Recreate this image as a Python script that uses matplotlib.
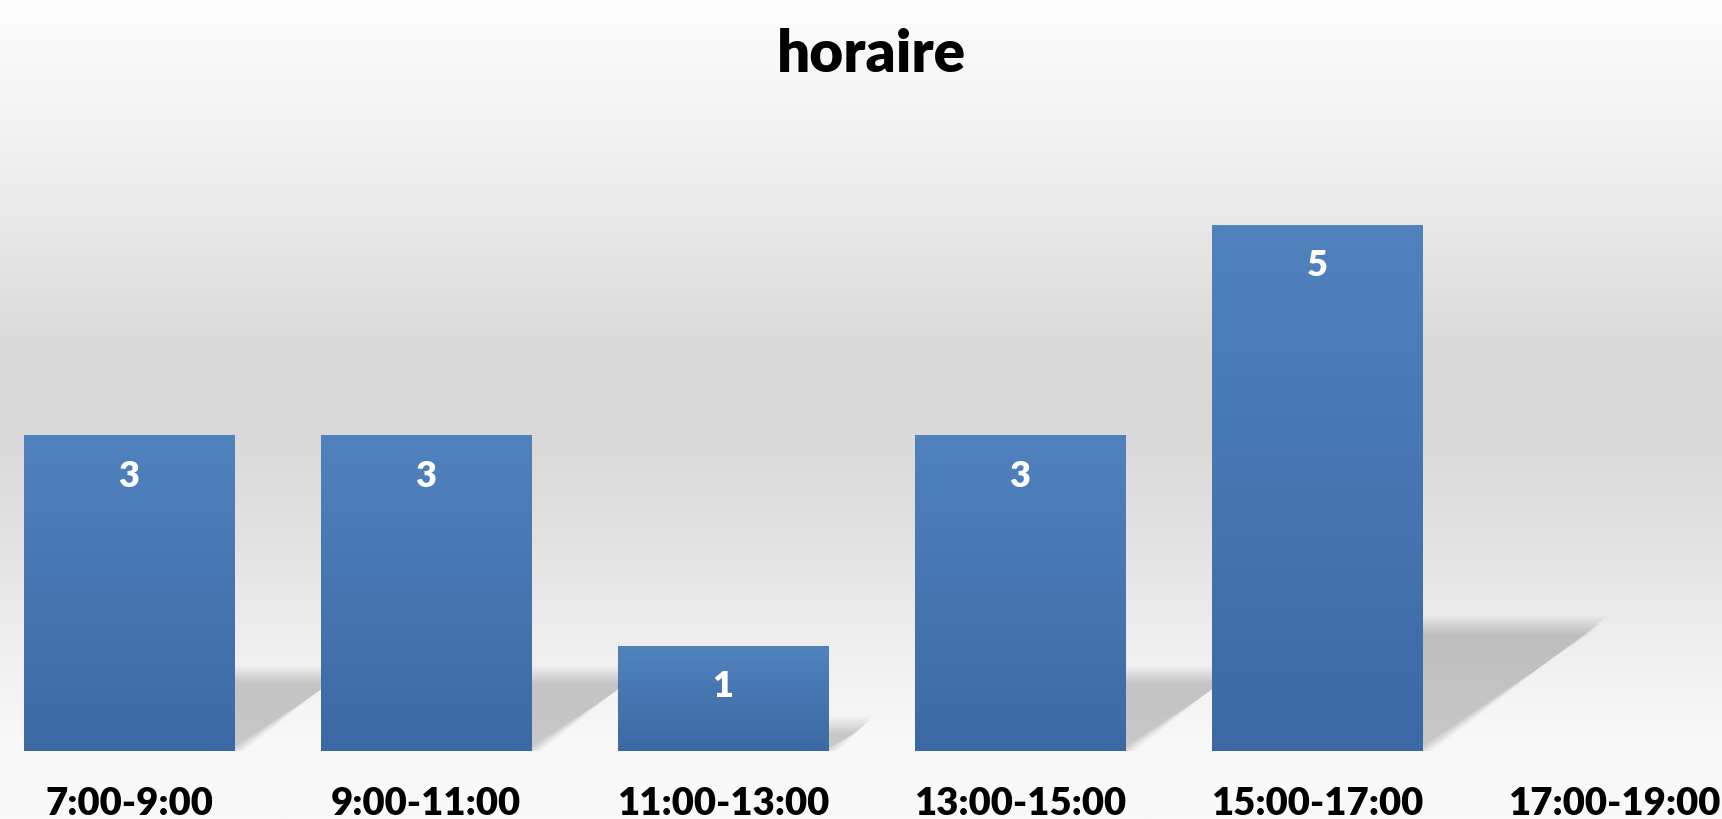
import numpy as np
import matplotlib
matplotlib.use("Agg")
import matplotlib.pyplot as plt
from matplotlib.patches import Polygon

# données
tranches = ["7:00-9:00", "9:00-11:00", "11:00-13:00", "13:00-15:00", "15:00-17:00", "17:00-19:00"]
effectifs = [3, 3, 1, 3, 5, 0]
titre = "horaire"

W, H = 1722, 820
fig = plt.figure(figsize=(W / 100, H / 100), dpi=100)

# fond dégradé gris
bg = fig.add_axes([0, 0, 1, 1], zorder=0)
yy = np.linspace(0, 1, 400)
stops_y = [0.0, 0.12, 0.28, 0.42, 0.52, 0.66, 0.80, 0.90, 1.0]
stops_g = [253, 245, 232, 218, 216, 226, 240, 248, 250]
g = np.interp(yy, stops_y, stops_g) / 255
bg.imshow(np.repeat(g[:, None], 2, axis=1)[:, :, None].repeat(3, axis=2),
          aspect="auto", extent=[0, 1, 0, 1], origin="upper")
bg.set_axis_off()

ax = fig.add_axes([0, 0, 1, 1], zorder=1)
ax.patch.set_alpha(0)
ax.set_axis_off()

# échelle : 297 px par catégorie, 105 px par unité
xpx, ypx = 297.0, 105.2
x0, y0 = 129.0, 68.0

x = np.arange(len(tranches))
largeur = 0.71

# ombres portées floues
for xi, v in zip(x, effectifs):
    if v == 0:
        continue
    h = 25.0 * v / ypx
    dx = 1.4 * 25.0 * v / xpx
    n = 10
    for i in range(n):
        e = (i - n / 2) * 2.0
        hy = h - e / ypx
        ex = e / xpx
        L, R = xi - largeur / 2, xi + largeur / 2
        poly = Polygon([(L, 0), (R - ex, 0), (R + dx - ex, hy), (L + dx, hy)],
                       closed=True, facecolor="black", edgecolor="none",
                       alpha=0.2 / n, zorder=2)
        ax.add_patch(poly)

# barres avec dégradé
bars = ax.bar(x, effectifs, width=largeur, color="#4a7ab6", zorder=3)
grad = np.linspace(0, 1, 100)[:, None]
top = np.array([80, 130, 190]) / 255
bot = np.array([60, 105, 163]) / 255
img = top[None, None, :] * (1 - grad[:, :, None]) + bot[None, None, :] * grad[:, :, None]
for b, v in zip(bars, effectifs):
    if v == 0:
        continue
    im = ax.imshow(img, aspect="auto", zorder=4, origin="upper",
                   extent=[b.get_x(), b.get_x() + b.get_width(), 0, v])
    im.set_clip_path(b)
ax.set_xlim(-x0 / xpx, (W - x0) / xpx)
ax.set_ylim(-y0 / ypx, (H - y0) / ypx)

# étiquettes de valeur
for xi, v in zip(x, effectifs):
    if v == 0:
        continue
    ax.text(xi, v - 40 / ypx, str(v), ha="center", va="center", color="white",
            fontsize=26, fontweight="heavy", family="Lato", zorder=5)

# étiquettes de catégorie
for xi, t in zip(x, tranches):
    ax.text(xi, -52 / ypx, t, ha="center", va="center", color="black",
            fontsize=27.5, fontweight="heavy", family="Lato", zorder=5)

fig.text(871 / W, 1 - 72 / H, titre, ha="center", va="baseline",
         fontsize=42, fontweight="heavy", family="Lato", zorder=5)

fig.savefig("out.png", dpi=100)
